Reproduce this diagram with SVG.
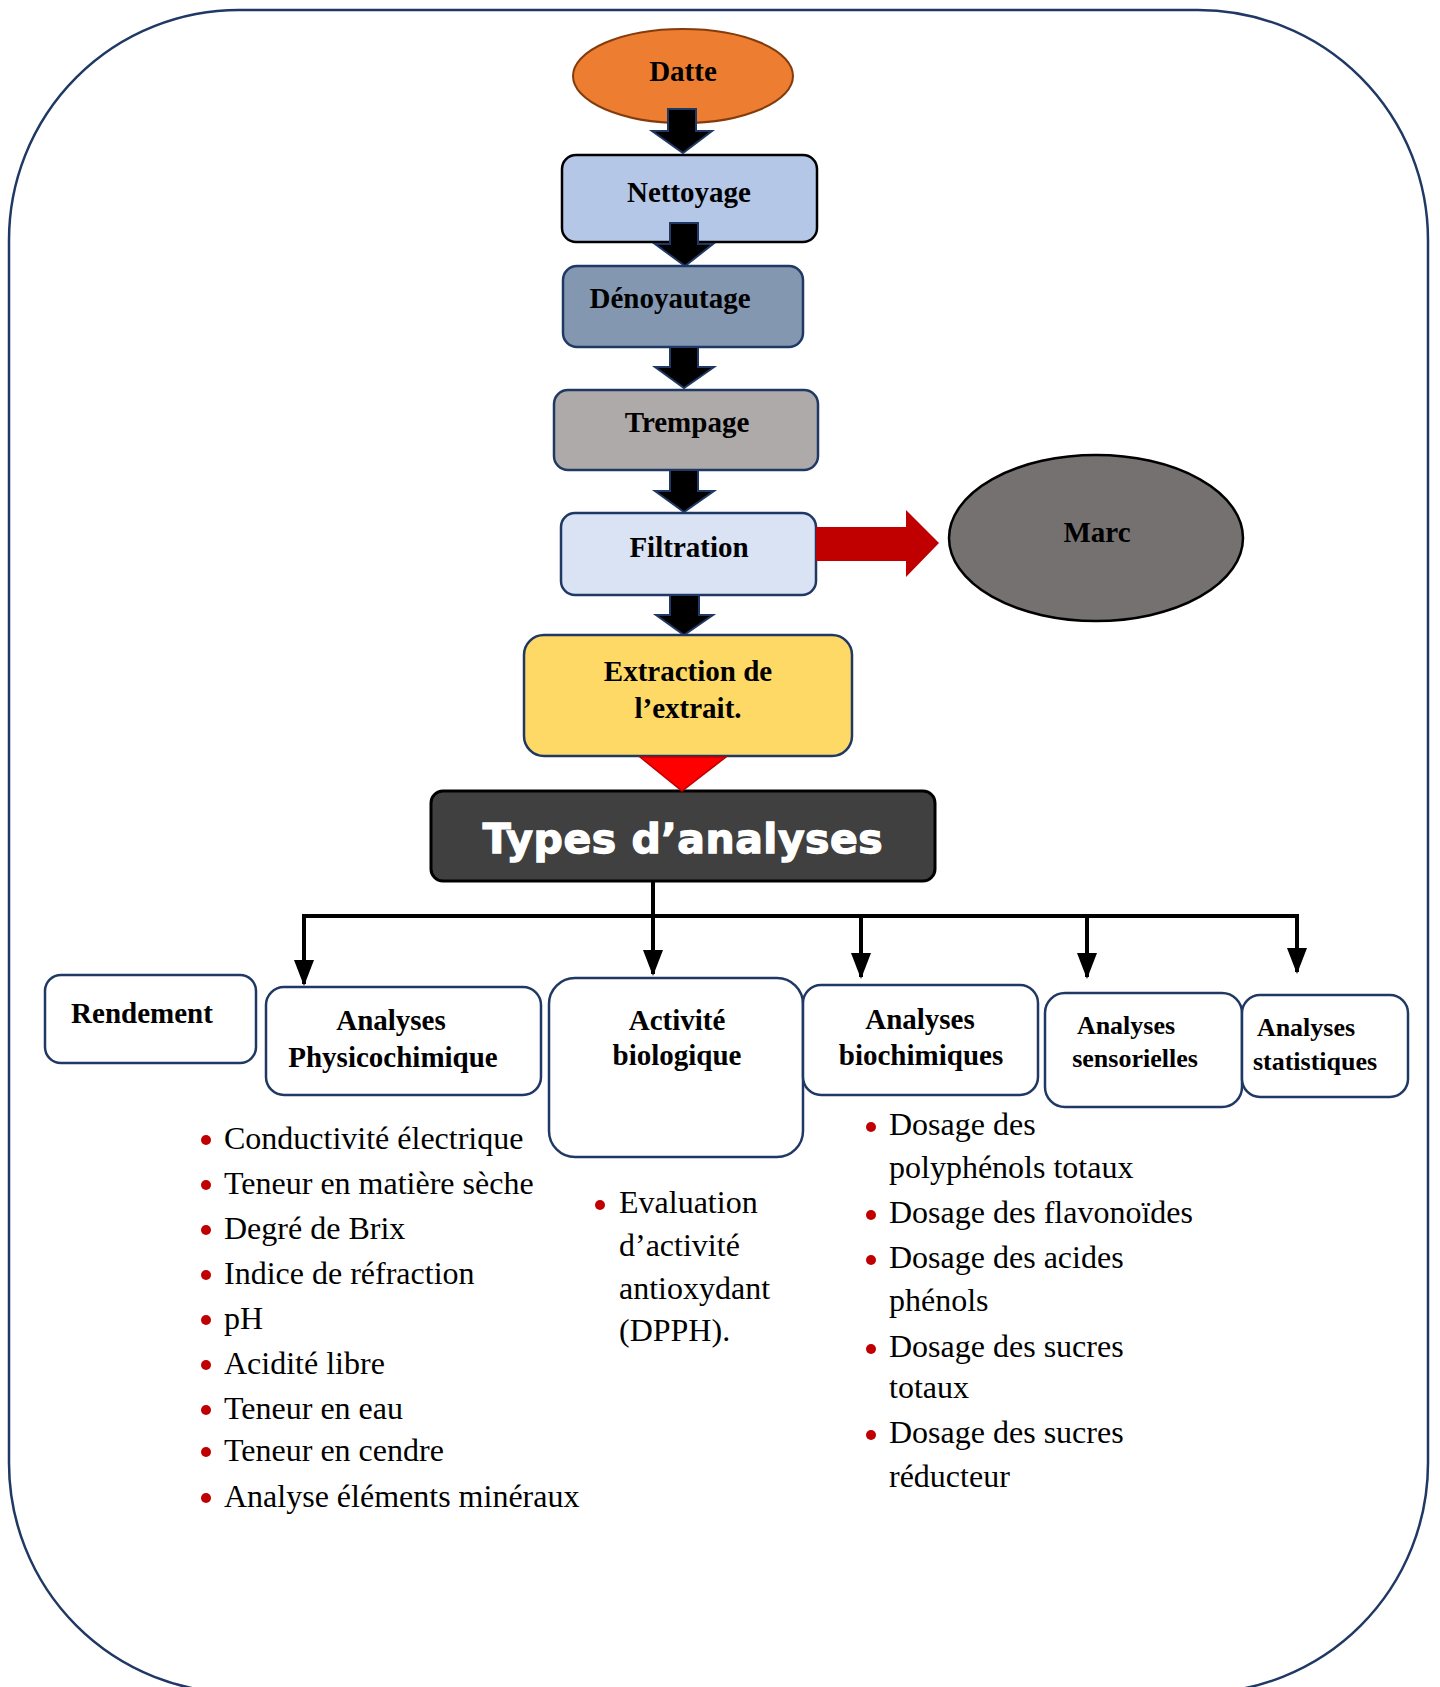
<svg xmlns="http://www.w3.org/2000/svg" width="1440" height="1687" viewBox="0 0 1440 1687">
<style>
.lbl{font-family:"Liberation Serif","Times New Roman",serif;font-weight:bold;font-size:29px;fill:#000;text-anchor:middle}
.sm{font-size:26px}
.li{font-family:"Liberation Serif","Times New Roman",serif;font-size:32px;fill:#000}
.box{stroke:#1f3864;stroke-width:2.5}
.blk{fill:#000;stroke:#1f3864;stroke-width:2;stroke-linejoin:miter}
.wbox{fill:#fff;stroke:#1f3864;stroke-width:2.5}
.bul{fill:#c00000}
.con{fill:none;stroke:#000;stroke-width:4}
</style>
<defs>
<marker id="ah" markerUnits="userSpaceOnUse" markerWidth="26" markerHeight="20" refX="24" refY="10" orient="auto" viewBox="0 0 26 20">
<path d="M0,0 L26,10 L0,20 Z" fill="#000"/>
</marker>
</defs>
<rect id="frame" x="9" y="10" width="1419" height="1683" rx="230" ry="230" fill="#fff" stroke="#1f3864" stroke-width="2.5"/>

<g id="n-datte">
<ellipse cx="683" cy="76" rx="110" ry="47" fill="#ed7d31" stroke="#843c0c" stroke-width="2"/>
<text class="lbl" x="683" y="81">Datte</text>
</g>
<g id="n-nettoyage">
<rect x="562" y="155" width="255" height="87" rx="14" fill="#b4c7e7" stroke="#000" stroke-width="2.5"/>
<text class="lbl" x="689" y="202">Nettoyage</text>
</g>
<g id="n-denoyautage">
<rect class="box" x="563" y="266" width="240" height="81" rx="14" fill="#8497b0"/>
<text class="lbl" x="670" y="308">Dénoyautage</text>
</g>
<g id="n-trempage">
<rect class="box" x="554" y="390" width="264" height="80" rx="14" fill="#aeaaaa"/>
<text class="lbl" x="687" y="432">Trempage</text>
</g>
<g id="n-filtration">
<rect class="box" x="561" y="513" width="255" height="82" rx="14" fill="#dae3f3"/>
<text class="lbl" x="689" y="557">Filtration</text>
</g>
<g id="n-marc">
<ellipse cx="1096" cy="538" rx="147" ry="83" fill="#767171" stroke="#000" stroke-width="2.5"/>
<text class="lbl" x="1097" y="542">Marc</text>
</g>
<g id="n-extraction">
<rect class="box" x="524" y="635" width="328" height="121" rx="20" fill="#ffd966"/>
<text class="lbl" x="688" y="681">Extraction de</text>
<text class="lbl" x="688" y="718">l’extrait.</text>
</g>
<g id="n-types">
<rect x="431" y="791" width="504" height="90" rx="12" fill="#404040" stroke="#000" stroke-width="3"/>
<text x="683" y="853" text-anchor="middle" font-family="DejaVu Sans, Liberation Sans, sans-serif" font-weight="bold" font-size="41" letter-spacing="0.5" fill="#fff" stroke="#fff" stroke-width="1.3">Types d’analyses</text>
</g>
<g id="n-rendement">
<rect class="wbox" x="45" y="975" width="211" height="88" rx="16"/>
<text class="lbl" x="142" y="1023">Rendement</text>
</g>
<g id="n-physico">
<rect class="wbox" x="266" y="987" width="275" height="108" rx="18"/>
<text class="lbl" x="391" y="1030">Analyses</text>
<text class="lbl" x="393" y="1067">Physicochimique</text>
</g>
<g id="n-activite">
<rect class="wbox" x="549" y="978" width="254" height="179" rx="26"/>
<text class="lbl" x="677" y="1030">Activité</text>
<text class="lbl" x="677" y="1065">biologique</text>
</g>
<g id="n-biochimiques">
<rect class="wbox" x="803" y="985" width="235" height="110" rx="18"/>
<text class="lbl" x="920" y="1029">Analyses</text>
<text class="lbl" x="921" y="1065">biochimiques</text>
</g>
<g id="n-sensorielles">
<rect class="wbox" x="1045" y="993" width="197" height="114" rx="20"/>
<text class="lbl sm" x="1126" y="1034">Analyses</text>
<text class="lbl sm" x="1135" y="1067">sensorielles</text>
</g>
<g id="n-statistiques">
<rect class="wbox" x="1242" y="995" width="166" height="102" rx="18"/>
<text class="lbl sm" x="1306" y="1036">Analyses</text>
<text class="lbl sm" x="1315" y="1070">statistiques</text>
</g>

<g id="list-physico">
<circle class="bul" cx="206" cy="1140" r="5"/><text class="li" x="224" y="1149">Conductivité électrique</text>
<circle class="bul" cx="206" cy="1185" r="5"/><text class="li" x="224" y="1194">Teneur en matière sèche</text>
<circle class="bul" cx="206" cy="1230" r="5"/><text class="li" x="224" y="1239">Degré de Brix</text>
<circle class="bul" cx="206" cy="1275" r="5"/><text class="li" x="224" y="1284">Indice de réfraction</text>
<circle class="bul" cx="206" cy="1320" r="5"/><text class="li" x="224" y="1329">pH</text>
<circle class="bul" cx="206" cy="1365" r="5"/><text class="li" x="224" y="1374">Acidité libre</text>
<circle class="bul" cx="206" cy="1410" r="5"/><text class="li" x="224" y="1419">Teneur en eau</text>
<circle class="bul" cx="206" cy="1452" r="5"/><text class="li" x="224" y="1461">Teneur en cendre</text>
<circle class="bul" cx="206" cy="1498" r="5"/><text class="li" x="224" y="1507">Analyse éléments minéraux</text>
</g>
<g id="list-activite">
<circle class="bul" cx="600" cy="1205" r="5"/>
<text class="li" x="619" y="1213">Evaluation</text>
<text class="li" x="619" y="1256">d’activité</text>
<text class="li" x="619" y="1299">antioxydant</text>
<text class="li" x="619" y="1341">(DPPH).</text>
</g>
<g id="list-biochimiques">
<circle class="bul" cx="871" cy="1127" r="5"/><text class="li" x="889" y="1135">Dosage des</text>
<text class="li" x="889" y="1178">polyphénols totaux</text>
<circle class="bul" cx="871" cy="1215" r="5"/><text class="li" x="889" y="1223">Dosage des flavonoïdes</text>
<circle class="bul" cx="871" cy="1260" r="5"/><text class="li" x="889" y="1268">Dosage des acides</text>
<text class="li" x="889" y="1311">phénols</text>
<circle class="bul" cx="871" cy="1349" r="5"/><text class="li" x="889" y="1357">Dosage des sucres</text>
<text class="li" x="889" y="1398">totaux</text>
<circle class="bul" cx="871" cy="1435" r="5"/><text class="li" x="889" y="1443">Dosage des sucres</text>
<text class="li" x="889" y="1487">réducteur</text>
</g>

<g id="connectors">
<polygon class="blk" points="668,109 696,109 696,131 712,131 683,153 652,131 668,131"/>
<polygon class="blk" points="670,223 698,223 698,244 713,244 685,266 655,244 670,244"/>
<polygon class="blk" points="670,347 698,347 698,367 714,367 684,388 655,367 670,367"/>
<polygon class="blk" points="670,470 698,470 698,491 714,491 684,512 655,491 670,491"/>
<polygon class="blk" points="670,595 699,595 699,615 713,615 684,635 656,615 670,615"/>
<polygon points="816,527 906,527 906,510 939,543 906,577 906,561 816,561" fill="#c00000"/>
<polygon points="640,757 726,757 682,791" fill="#ff0000" stroke="#c00000" stroke-width="1.5"/>
<path class="con" d="M653,881 V974" marker-end="url(#ah)"/>
<path class="con" d="M302,916 H1299"/>
<path class="con" d="M304,914 V984" marker-end="url(#ah)"/>
<path class="con" d="M861,914 V977" marker-end="url(#ah)"/>
<path class="con" d="M1087,914 V977" marker-end="url(#ah)"/>
<path class="con" d="M1297,914 V972" marker-end="url(#ah)"/>
</g>
</svg>
